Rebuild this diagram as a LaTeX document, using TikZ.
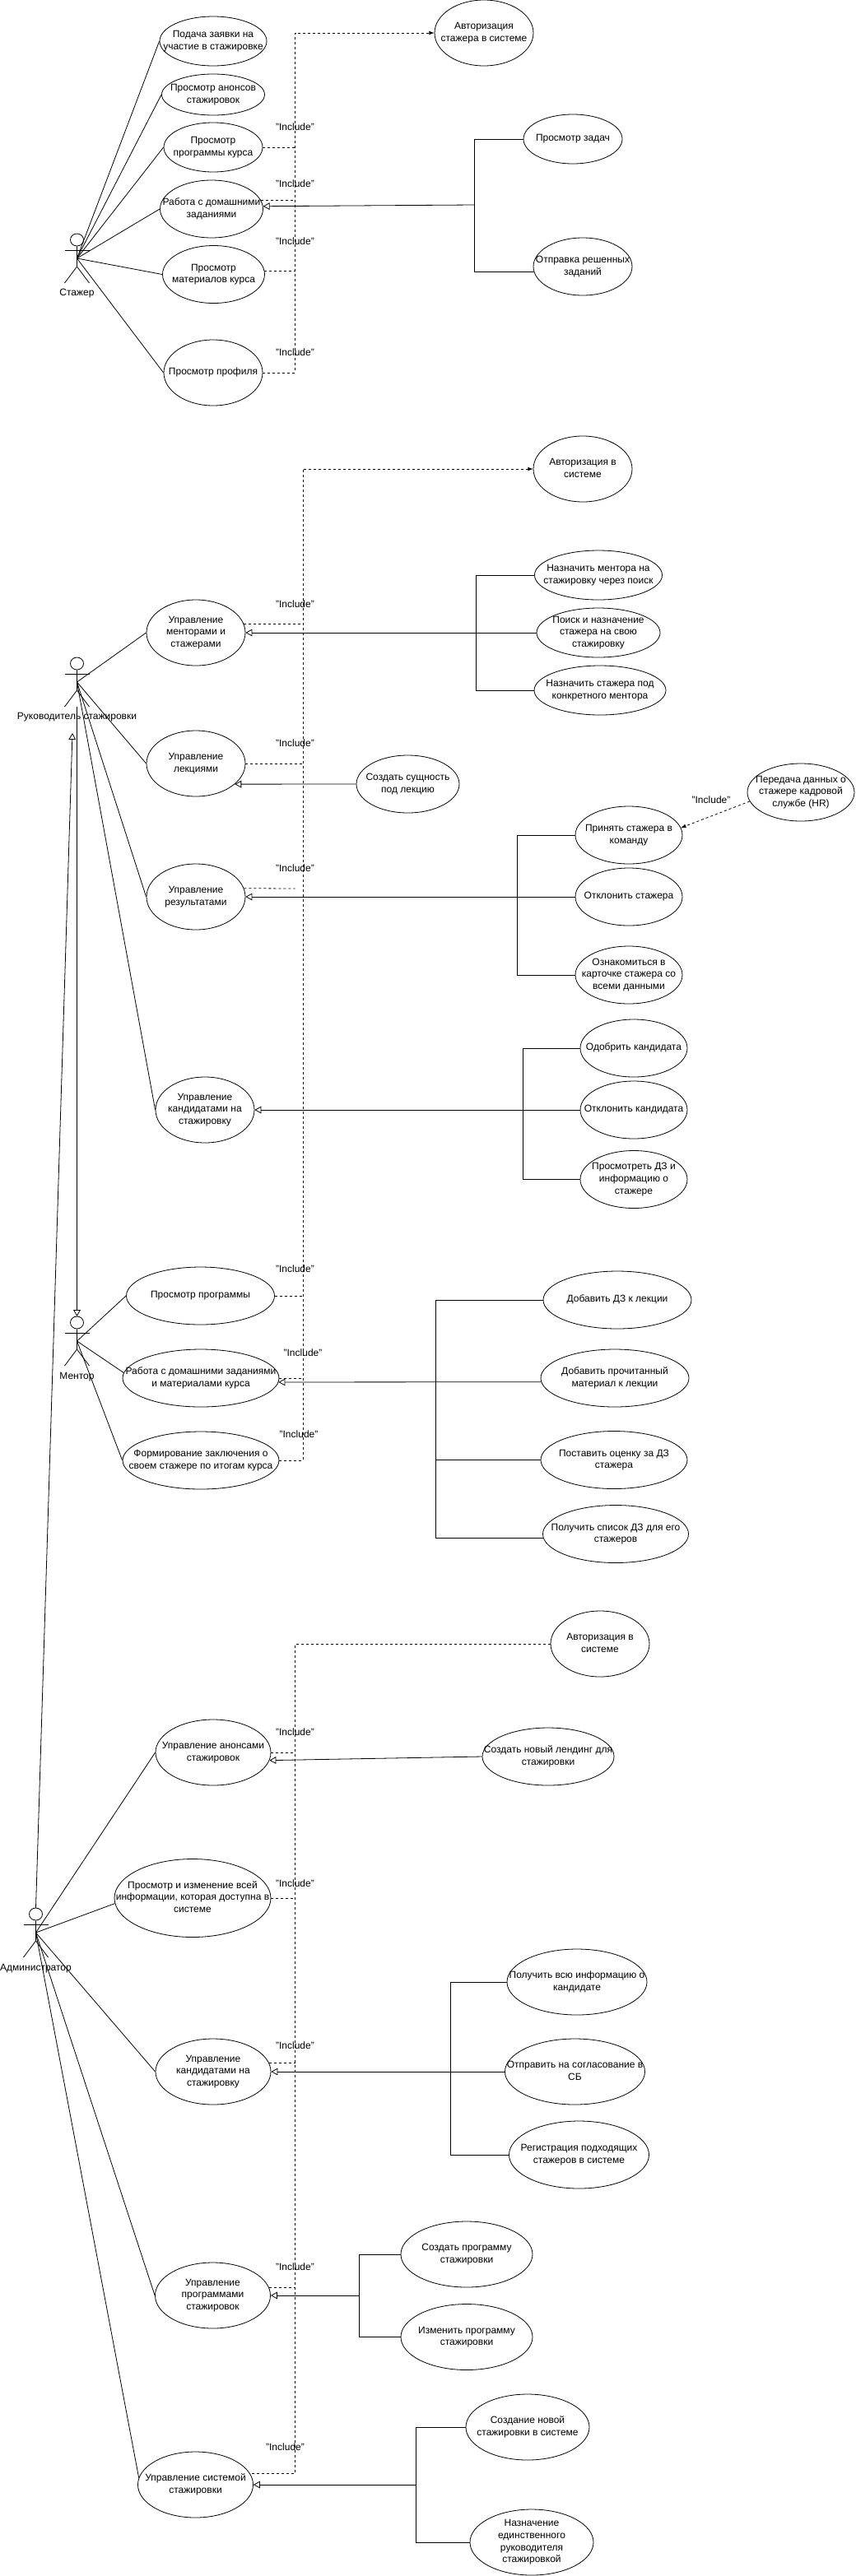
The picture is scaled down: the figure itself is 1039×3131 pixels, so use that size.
\documentclass[tikz,border=0pt]{standalone}
\usepackage{fontspec}
\setmainfont{Liberation Sans}
\usetikzlibrary{shapes.geometric,arrows.meta}
\newcommand{\uctext}[1]{\makebox[0pt]{\smash{\raisebox{-0.25em}{\begin{tabular}{@{}c@{}}#1\end{tabular}}}}}
\tikzset{
    usecase/.style 2 args={draw,ellipse,inner sep=0pt,minimum width=#1*0.75pt,minimum height=#2*0.75pt},
    incl/.style={dash pattern=on 2.25pt off 2.25pt},
    gen/.style={-{Triangle[open,length=6pt,width=6.5pt]}},
    actor/.pic={
        \node[draw,ellipse,inner sep=0pt,minimum width=12pt,minimum height=11.25pt] (-head) at (0,7.5) {};
        \coordinate (-center) at (0,30);
        \coordinate (-top) at (0,0);
        \coordinate (-bottom) at (0,60);
        \draw (-head.south) -- (0,40) -- (-15,60);
        \draw (0,40) -- (15,60);
        \draw (-15,20) -- (15,20);
    }
}
\begin{document}
\begin{tikzpicture}[x=0.75pt,y=-0.75pt,line width=0.6pt,every node/.style={font=\fontsize{9}{11}\selectfont}]
    \useasboundingbox (0,0) rectangle (1039,3131);

    \pic (stazher) at (93.5,284) {actor};
    \node (stazherlabel) at (93.5,357) {Стажер};
    \node[usecase={130}{60}] (apply) at (259,50) {\uctext{Подача заявки на\\участие в стажировке}};
    \node[usecase={125}{50}] (announce) at (259,115) {\uctext{Просмотр анонсов\\стажировок}};
    \node[usecase={120}{60}] (program) at (259,179) {\uctext{Просмотр\\программы курса}};
    \node[usecase={125}{70}] (homework) at (257,254) {\uctext{Работа с домашними\\заданиями}};
    \node[usecase={124}{70}] (materials) at (259.5,333.5) {\uctext{Просмотр\\материалов курса}};
    \node[usecase={120}{80}] (profile) at (259,453) {\uctext{Просмотр профиля}};
    \node[usecase={120}{80}] (authintern) at (588,40) {\uctext{Авторизация\\стажера в системе}};
    \node[usecase={120}{60}] (tasks) at (696,169) {\uctext{Просмотр задач}};
    \node[usecase={120}{70}] (solved) at (708,324) {\uctext{Отправка решенных\\заданий}};
    \coordinate (dashintern) at (358.5,40);
    \coordinate (businternhw) at (576.5,249);

    \draw (stazher-center) -- (apply.west);
    \draw (stazher-center) -- (announce.west);
    \draw (stazher-center) -- (program.west);
    \draw (stazher-center) -- (homework.west);
    \draw (stazher-center) -- (materials.west);
    \draw (stazher-center) -- (profile.west);
    \draw[incl,-latex] (profile.east) -| (dashintern) -- (authintern.west);
    \draw[incl] (program.east) -- (program.east -| dashintern);
    \draw[incl] (homework.10) -- (homework.10 -| dashintern);
    \draw[incl] (materials.4) -- (materials.4 -| dashintern);
    \draw (tasks.west) -| (businternhw);
    \draw (solved.186) -| (businternhw);
    \draw[gen] (businternhw) -- (homework.3);
    \node (inclA) at (358.5,154) {"Include"};
    \node (inclB) at (358.5,223.5) {"Include"};
    \node (inclC) at (358.5,293) {"Include"};
    \node (inclD) at (358.5,428) {"Include"};

    \pic (head) at (93.5,799) {actor};
    \node (headlabel) at (93.5,872) {Руководитель стажировки};
    \node[usecase={120}{80}] (authhead) at (708,570) {\uctext{Авторизация в\\системе}};
    \node[usecase={120}{80}] (mentors) at (238,769) {\uctext{Управление\\менторами и\\стажерами}};
    \node[usecase={155}{60}] (assignmentor) at (727,699) {\uctext{Назначить ментора на\\стажировку через поиск}};
    \node[usecase={150}{60}] (searchintern) at (727,769) {\uctext{Поиск и назначение\\стажера на свою\\стажировку}};
    \node[usecase={160}{60}] (assignintern) at (729,839) {\uctext{Назначить стажера под\\конкретного ментора}};
    \node[usecase={120}{80}] (lectures) at (238,928) {\uctext{Управление\\лекциями}};
    \node[usecase={125}{70}] (newlecture) at (495.5,953) {\uctext{Создать сущность\\под лекцию}};
    \node[usecase={130}{70}] (hrdata) at (973,963) {\uctext{Передача данных о\\стажере кадровой\\службе (HR)}};
    \node[usecase={130}{70}] (accept) at (764,1015) {\uctext{Принять стажера в\\команду}};
    \node[usecase={120}{80}] (results) at (238,1090) {\uctext{Управление\\результатами}};
    \node[usecase={130}{70}] (reject) at (764,1090) {\uctext{Отклонить стажера}};
    \node[usecase={130}{70}] (card) at (764,1185) {\uctext{Ознакомиться в\\карточке стажера со\\всеми данными}};
    \node[usecase={120}{80}] (candidates) at (249,1349) {\uctext{Управление\\кандидатами на\\стажировку}};
    \node[usecase={130}{70}] (approve) at (770,1274) {\uctext{Одобрить кандидата}};
    \node[usecase={130}{70}] (rejectcand) at (770,1349) {\uctext{Отклонить кандидата}};
    \node[usecase={130}{70}] (viewhw) at (770,1433.5) {\uctext{Просмотреть ДЗ и\\информацию о\\стажере}};
    \coordinate (dashhead) at (368.5,570);
    \coordinate (dashresults) at (358.5,1080);
    \coordinate (busmentors) at (578.5,769);
    \coordinate (busresults) at (628,1090);
    \coordinate (buscand) at (635,1349);

    \draw (head-center) -- (mentors.west);
    \draw (head-center) -- (lectures.west);
    \draw (head-center) -- (results.west);
    \draw (head-center) -- (candidates.west);
    \draw[incl] (mentors.10) -- (mentors.10 -| dashhead);
    \draw[incl] (lectures.east) -- (lectures.east -| dashhead);
    \draw[incl] (results.10) -- (dashresults);
    \draw[incl,-latex] (hrdata.190) -- (accept.8);
    \draw (assignmentor.west) -| (busmentors);
    \draw (assignintern.west) -| (busmentors);
    \draw[gen] (searchintern.west) -- (mentors.east);
    \draw[gen] (newlecture.west) -- (lectures.-28);
    \draw (accept.west) -| (busresults);
    \draw (card.west) -| (busresults);
    \draw[gen] (reject.west) -- (results.east);
    \draw (approve.west) -| (buscand);
    \draw (viewhw.west) -| (buscand);
    \draw[gen] (rejectcand.west) -- (candidates.east);
    \node (inclE) at (358.5,734) {"Include"};
    \node (inclF) at (358.5,903) {"Include"};
    \node (inclG) at (864,972.5) {"Include"};
    \node (inclH) at (358.5,1055) {"Include"};

    \pic (mentor) at (93.5,1600) {actor};
    \node (mentorlabel) at (93.5,1673.5) {Ментор};
    \node[usecase={180}{70}] (viewprogram) at (243.5,1575) {\uctext{Просмотр программы}};
    \node[usecase={190}{70}] (hwcourse) at (244,1675) {\uctext{Работа с домашними заданиями\\и материалами курса}};
    \node[usecase={190}{70}] (conclusion) at (244,1775) {\uctext{Формирование заключения о\\своем стажере по итогам курса}};
    \node[usecase={180}{70}] (addhw) at (750,1580) {\uctext{Добавить ДЗ к лекции}};
    \node[usecase={180}{70}] (addread) at (747,1675) {\uctext{Добавить прочитанный\\материал к лекции}};
    \node[usecase={178}{70}] (grade) at (746,1774.5) {\uctext{Поставить оценку за ДЗ\\стажера}};
    \node[usecase={177}{70}] (hwlist) at (748,1864.5) {\uctext{Получить список ДЗ для его\\стажеров}};
    \coordinate (busmentor) at (529,1679);

    \draw (mentor-center) -- (viewprogram.west);
    \draw (mentor-center) -- (hwcourse.176);
    \draw (mentor-center) -- (conclusion.west);
    \draw[incl] (conclusion.east) -| (dashhead);
    \draw[incl,-latex] (dashhead) -- (authhead.west);
    \draw[incl] (viewprogram.east) -- (viewprogram.east -| dashhead);
    \draw[incl] (hwcourse.east) -- (hwcourse.east -| dashhead);
    \draw (addhw.west) -| (busmentor);
    \draw (grade.west) -| (busmentor);
    \draw (hwlist.183) -| (busmentor);
    \draw[gen] (addread.183) -- (hwcourse.-3);
    \node (inclI) at (358.5,1542.5) {"Include"};
    \node (inclJ) at (368,1644.5) {"Include"};
    \node (inclK) at (363,1743.5) {"Include"};

    \pic (admin) at (43.5,2319) {actor};
    \node (adminlabel) at (43.5,2392.5) {Администратор};
    \node[usecase={120}{80}] (authadmin) at (729,1998) {\uctext{Авторизация в\\системе}};
    \node[usecase={140}{80}] (announces) at (259,2130) {\uctext{Управление анонсами\\стажировок}};
    \node[usecase={160}{70}] (landing) at (666,2135) {\uctext{Создать новый лендинг для\\стажировки}};
    \node[usecase={190}{95}] (allinfo) at (234,2307) {\uctext{Просмотр и изменение всей\\информации, которая доступна в\\системе}};
    \node[usecase={140}{80}] (admincand) at (259,2518) {\uctext{Управление\\кандидатами на\\стажировку}};
    \node[usecase={170}{80}] (candinfo) at (701,2409) {\uctext{Получить всю информацию о\\кандидате}};
    \node[usecase={170}{80}] (security) at (698.5,2518) {\uctext{Отправить на согласование в\\СБ}};
    \node[usecase={170}{82}] (register) at (703.5,2619) {\uctext{Регистрация подходящих\\стажеров в системе}};
    \node[usecase={140}{80}] (programs) at (258.5,2790) {\uctext{Управление\\программами\\стажировок}};
    \node[usecase={160}{80}] (newprogram) at (567,2740) {\uctext{Создать программу\\стажировки}};
    \node[usecase={160}{80}] (editprogram) at (567,2840.5) {\uctext{Изменить программу\\стажировки}};
    \node[usecase={140}{80}] (system) at (237.5,3020) {\uctext{Управление системой\\стажировки}};
    \node[usecase={150}{80}] (newintern) at (641,2950) {\uctext{Создание новой\\стажировки в системе}};
    \node[usecase={150}{80}] (single) at (646,3090) {\uctext{Назначение\\единственного\\руководителя\\стажировкой}};
    \coordinate (dashadmin) at (358.5,1998);
    \coordinate (buscandadmin) at (547.5,2518);
    \coordinate (busprograms) at (436.5,2790);
    \coordinate (bussystem) at (505.5,3020);

    \draw (admin-center) -- (announces.west);
    \draw (admin-center) -- (allinfo.184);
    \draw (admin-center) -- (admincand.west);
    \draw (admin-center) -- (programs.west);
    \draw (admin-center) -- (system.173);
    \draw[incl] (authadmin.west) -- (dashadmin) -- (dashadmin |- system.12) -- (system.12);
    \draw[incl] (announces.east) -- (announces.east -| dashadmin);
    \draw[incl] (allinfo.east) -- (allinfo.east -| dashadmin);
    \draw[incl] (admincand.9) -- (admincand.9 -| dashadmin);
    \draw[incl] (programs.8) -- (programs.8 -| dashadmin);
    \draw[gen] (landing.west) -- (announces.-8);
    \draw (candinfo.west) -| (buscandadmin);
    \draw (register.west) -| (buscandadmin);
    \draw[gen] (security.west) -- (admincand.east);
    \draw (newprogram.west) -| (busprograms);
    \draw (editprogram.west) -| (busprograms);
    \draw[gen] (busprograms) -- (programs.east);
    \draw (newintern.west) -| (bussystem);
    \draw (single.west) -| (bussystem);
    \draw[gen] (bussystem) -- (system.east);
    \node (inclL) at (358.5,2105) {"Include"};
    \node (inclM) at (358.5,2289) {"Include"};
    \node (inclN) at (358.5,2486.5) {"Include"};
    \node (inclO) at (358.5,2755) {"Include"};
    \node (inclP) at (346.5,2974.5) {"Include"};

    \draw[gen] (head-bottom) -- (mentor-top);
    \draw[gen] (admin-top) -- (88,891);
\end{tikzpicture}
\end{document}
